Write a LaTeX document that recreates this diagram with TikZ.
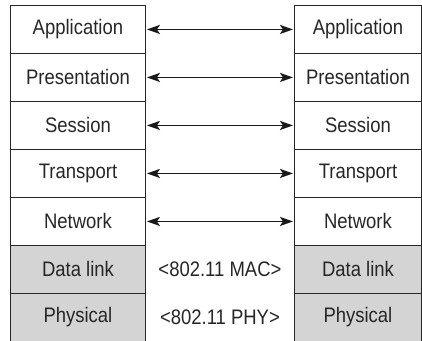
\documentclass[tikz,border=0pt]{standalone}
\usepackage{fontspec}
\setmainfont{Liberation Sans}[FakeStretch=0.88]
\usetikzlibrary{arrows.meta,calc}
\tikzset{
  cell/.style={draw=black!85, line width=0.9pt, minimum height=48pt, inner sep=0pt, text=black!85, font=\fontsize{21}{24}\selectfont, anchor=north west},
  lcell/.style={cell, minimum width=135pt},
  rcell/.style={cell, minimum width=127pt},
  lower/.style={fill=black!17},
  link/.style={{Stealth[length=13pt,width=9pt,inset=3pt]}-{Stealth[length=13pt,width=9pt,inset=3pt]}, line width=1.8pt, black!90},
  mid/.style={text=black!85, font=\fontsize{21}{24}\selectfont}
}
\begin{document}
\begin{tikzpicture}[x=1pt,y=1pt]
\useasboundingbox (0,0) rectangle (422,340);
\foreach \t [count=\i from 0] in {Application,Presentation,Session,Transport,Network}{
  \node[lcell] (L\i) at (10,{335-48*\i}) {\t};
  \node[rcell] (R\i) at (294,{335-48*\i}) {\t};
  \draw[link] ([xshift=1pt]L\i.east) -- ([xshift=-1pt]R\i.west);
}
\node[lcell,lower] (L5) at (10,95) {Data link};
\node[rcell,lower] (R5) at (294,95) {Data link};
\node[lcell,lower] (L6) at (10,47) {Physical};
\node[rcell,lower] (R6) at (294,47) {Physical};
\node[mid] (mac) at ($(L5.east)!0.5!(R5.west)$) {<802.11 MAC>};
\node[mid] (phy) at ($(L6.east)!0.5!(R6.west)$) {<802.11 PHY>};
\end{tikzpicture}
\end{document}
